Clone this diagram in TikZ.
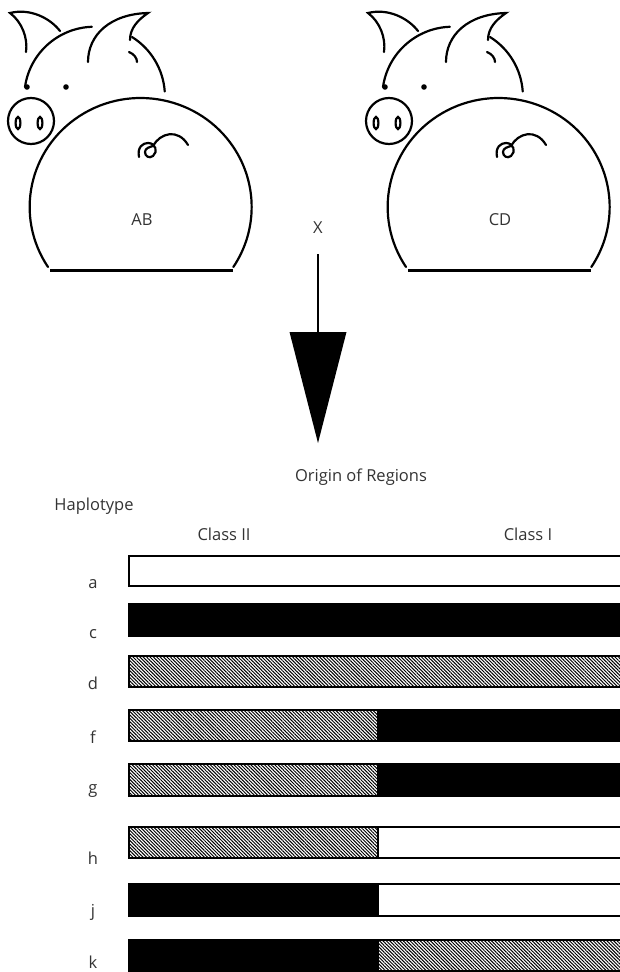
\documentclass[tikz,border=0pt]{standalone}
\usepackage{fontspec}
\setmainfont{Open Sans}
\usepackage{tikz}
\usetikzlibrary{arrows.meta,patterns.meta}

\definecolor{inkgray}{HTML}{333333}

\tikzset{
    lbl/.style={font=\fontsize{16.5}{19}\selectfont, text=inkgray, inner sep=0pt},
    outline/.style={line width=2.2pt, line cap=round},
    bar/.style={draw=black, line width=2.5pt},
    open/.style={bar, fill=white},
    solid/.style={bar, fill=black},
    hatch/.style={bar, pattern={Lines[angle=-45,distance=2.4pt,line width=1pt]}},
    pig/.pic={
        % ears
        \draw[outline] (26,52) .. controls (28,38) and (22,22) .. (10,13)
            .. controls (30,8) and (50,18) .. (60,31);
        \draw[outline] (88,62) .. controls (88,35) and (110,14) .. (148,13)
            .. controls (138,20) and (130,28) .. (130,40);
        \draw[outline] (129,52) .. controls (134,54) and (137,58) .. (137,62);
        % head
        \draw[outline] (25,87) arc[start angle=188, end angle=268, radius=70];
        \draw[outline] (132,37) arc[start angle=302, end angle=356, radius=70];
        \fill (27,87) circle[radius=2.8];
        \fill (66,87) circle[radius=2.8];
        % snout
        \draw[outline] (31,121) circle[radius=23];
        \draw[outline] (18,123) ellipse[x radius=2.4, y radius=6];
        \draw[outline] (40,123) ellipse[x radius=2.4, y radius=6];
        % body
        \draw[outline] (48,267) arc[start angle=146.6, end angle=393.4, x radius=111, y radius=109];
        \draw[line width=3pt] (50,270) -- (233,270);
        % tail
        \draw[outline] (139,157) .. controls (137,147) and (143,143) .. (148,143)
            .. controls (156,143) and (158,152) .. (153,156)
            .. controls (149,159) and (145,156) .. (145,152)
            .. controls (145,148) and (150,147) .. (153,146)
            .. controls (160,133) and (178,128) .. (188,145);
        \node[lbl] (-tag) at (142,220) {#1};
    }
}

\begin{document}
\begin{tikzpicture}[x=1pt,y=-1pt]
    \useasboundingbox (0,0) rectangle (619,972);

    \pic (abpig) at (0,0) {pig=AB};
    \pic (cdpig) at (358,0) {pig=CD};

    \node[lbl] (cross) at (318,228) {X};
    \coordinate (arrowtop) at (318,254);
    \coordinate (arrowtip) at (318,443);
    \draw[line width=2.5pt, -{Triangle[length=111pt,width=57pt,line width=0pt]}] (arrowtop) -- (arrowtip);

    \node[lbl] (origin) at (361,477) {Origin of Regions};
    \node[lbl] (haplo) at (94,506) {Haplotype};
    \node[lbl] (classII) at (224,534) {Class II};
    \node[lbl] (classI) at (528,534) {Class I};

    % haplotype bars, class II part left of x=378
    \draw[open] (129,556) rectangle (640,586);
    \draw[solid] (129,604) rectangle (640,636);
    \draw[hatch] (129,656) rectangle (640,687);
    \draw[solid] (378,710) rectangle (640,741);
    \draw[hatch] (129,710) rectangle (378,741);
    \draw[solid] (378,764) rectangle (640,796);
    \draw[hatch] (129,764) rectangle (378,796);
    \draw[open] (378,827) rectangle (640,858);
    \draw[hatch] (129,827) rectangle (378,858);
    \draw[open] (378,884) rectangle (640,916);
    \draw[solid] (129,884) rectangle (378,916);
    \draw[hatch] (378,940) rectangle (640,971);
    \draw[solid] (129,940) rectangle (378,971);

    \node[lbl, anchor=base] (ha) at (93,588) {a};
    \node[lbl, anchor=base] (hc) at (93,638) {c};
    \node[lbl, anchor=base] (hd) at (93,689) {d};
    \node[lbl, anchor=base] (hf) at (93,743) {f};
    \node[lbl, anchor=base] (hg) at (93,793) {g};
    \node[lbl, anchor=base] (hh) at (93,864) {h};
    \node[lbl, anchor=base] (hj) at (93,916) {j};
    \node[lbl, anchor=base] (hk) at (93,968) {k};
\end{tikzpicture}
\end{document}
